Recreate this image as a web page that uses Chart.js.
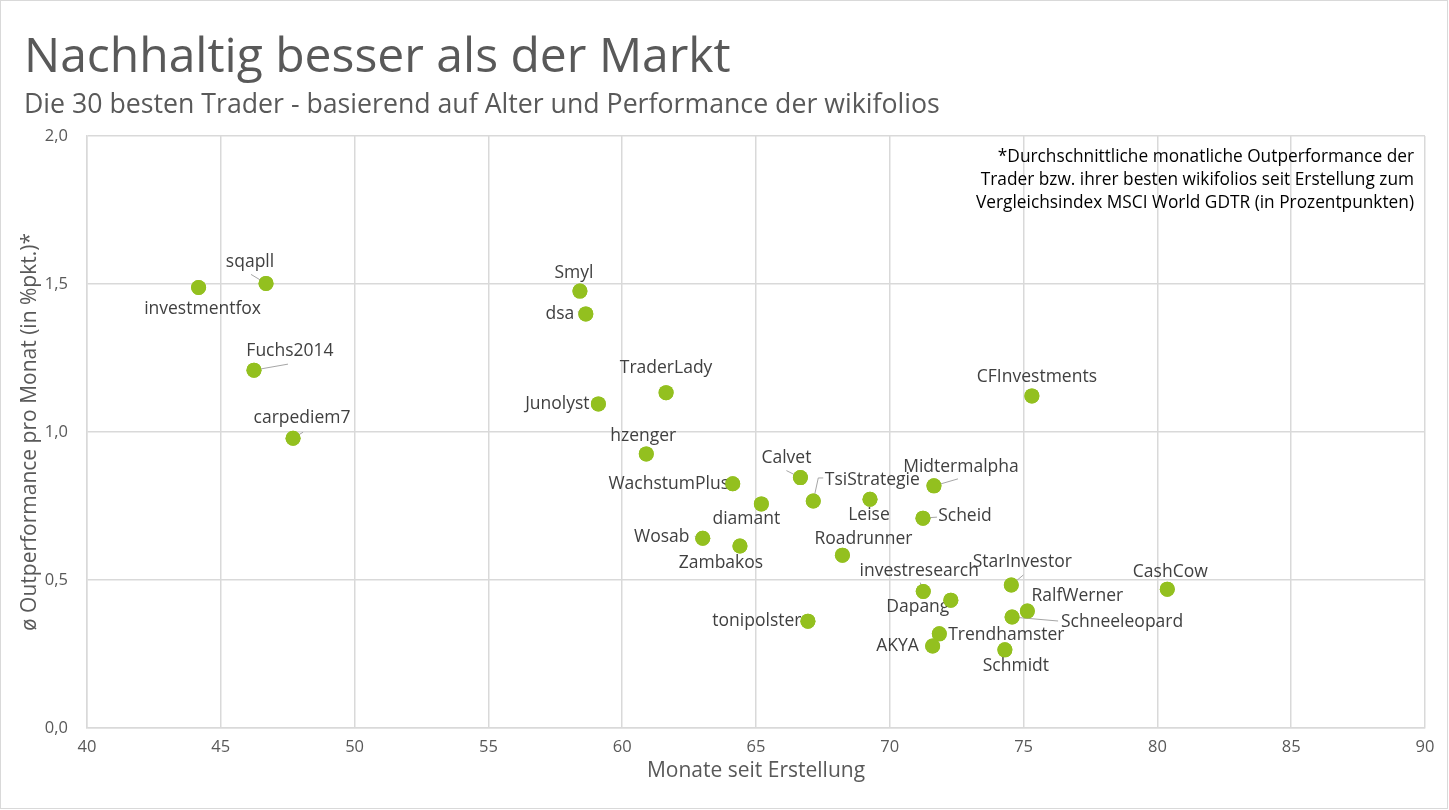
<!DOCTYPE html>
<html>
<head>
<meta charset="utf-8">
<script src="https://cdn.jsdelivr.net/npm/chart.js@4.4.1/dist/chart.umd.min.js"></script>
<style>
  html, body { margin: 0; padding: 0; background: #fff; }
  #wrap { position: relative; width: 1449px; height: 810px; }
</style>
</head>
<body>
<div id="wrap"><canvas id="chart"></canvas></div>
<script>
// trader names, age of wikifolio (months) and avg. monthly outperformance
const traders = [
  "investmentfox", "sqapll", "Fuchs2014", "carpediem7", "Smyl", "dsa",
  "TraderLady", "Junolyst", "hzenger", "CFInvestments", "WachstumPlus", "diamant",
  "Calvet", "TsiStrategie", "Leise", "Midtermalpha", "Scheid", "Wosab",
  "Zambakos", "Roadrunner", "investresearch", "Dapang", "StarInvestor", "RalfWerner",
  "Schneeleopard", "CashCow", "tonipolster", "Trendhamster", "AKYA", "Schmidt",
];
const months = [
  44.17, 46.69, 46.24, 47.70, 58.42, 58.64,
  61.64, 59.11, 60.90, 75.31, 64.13, 65.20,
  66.66, 67.14, 69.26, 71.65, 71.24, 63.01,
  64.40, 68.23, 71.25, 72.28, 74.54, 75.14,
  74.57, 80.37, 66.94, 71.85, 71.60, 74.30,
];
const outperf = [
  1.488, 1.502, 1.209, 0.979, 1.476, 1.399,
  1.133, 1.095, 0.926, 1.122, 0.825, 0.757,
  0.846, 0.767, 0.773, 0.818, 0.709, 0.641,
  0.615, 0.584, 0.461, 0.432, 0.483, 0.395,
  0.375, 0.469, 0.361, 0.318, 0.277, 0.264,
];
const xTicks = [40, 45, 50, 55, 60, 65, 70, 75, 80, 85, 90];
const yTicks = [0, 0.5, 1, 1.5, 2];

// label placement (px, relative to the dot) + optional leader line points
const labelPos = [
  [4, 21], [-16, -21], [36, -19], [9, -20], [-6, -18], [-26, 0],
  [0, -25], [-41, 0], [-3, -18], [5, -19], [-64, 0], [-15, 15],
  [-14, -20], [59, -21], [-1, 16], [27, -19], [42, -2], [-41, -1],
  [-19, 17], [21, -16], [-4, -21], [-33, 7], [11, -23], [50, -15],
  [110, 5], [3, -17], [-51, 0], [67, 1], [-35, 0], [11, 16],
];
const leaders = {
  sqapll: [[-15, -9]],
  Fuchs2014: [[34, -6]],
  carpediem7: [[10, -6]],
  dsa: [[-8, -2]],
  Calvet: [[-14, -7]],
  TsiStrategie: [[10, -23], [5, -23]],
  Midtermalpha: [[24, -7]],
  Scheid: [[14, -1]],
  Wosab: [[-8, -2]],
  investresearch: [[-3, -9]],
  StarInvestor: [[12, -10]],
  Schneeleopard: [[46, 4]],
  AKYA: [[-7, 0]],
};

const FONT = "'Open Sans', 'Noto Sans', sans-serif";
const GRID = "#d9d9d9";

const points = months.map((m, i) => ({ x: m, y: outperf[i] }));

const decorPlugin = {
  id: "decor",
  beforeDraw(chart) {
    const ctx = chart.ctx;
    ctx.save();
    ctx.fillStyle = "#fff";
    ctx.fillRect(0, 0, chart.width, chart.height);
    ctx.strokeStyle = GRID;
    ctx.lineWidth = 1;
    ctx.strokeRect(0.5, 0.5, 1447, 808);
    // headline + subline
    ctx.fillStyle = "#595959";
    ctx.textAlign = "left";
    ctx.textBaseline = "alphabetic";
    ctx.font = "48px " + FONT;
    ctx.fillText("Nachhaltig besser als der Markt", 24, 72);
    ctx.font = "26.7px " + FONT;
    ctx.fillText("Die 30 besten Trader - basierend auf Alter und Performance der wikifolios", 24, 113);
    ctx.restore();
  },
  afterDatasetsDraw(chart) {
    const ctx = chart.ctx;
    const xs = chart.scales.x, ys = chart.scales.y;
    ctx.save();
    // footnote box, top right
    ctx.fillStyle = "#000";
    ctx.font = "17.3px " + FONT;
    ctx.textAlign = "right";
    ctx.textBaseline = "middle";
    ctx.fillText("*Durchschnittliche monatliche Outperformance der", 1414, 157);
    ctx.fillText("Trader bzw. ihrer besten wikifolios seit Erstellung zum", 1414, 180);
    ctx.fillText("Vergleichsindex MSCI World GDTR (in Prozentpunkten)", 1414, 203);

    // data labels
    ctx.textAlign = "center";
    ctx.fillStyle = "#404040";
    ctx.font = "17.5px " + FONT;
    traders.forEach((name, i) => {
      const px = xs.getPixelForValue(months[i]);
      const py = ys.getPixelForValue(outperf[i]);
      const lead = leaders[name];
      if (lead) {
        ctx.strokeStyle = "#a6a6a6";
        ctx.lineWidth = 1;
        ctx.beginPath();
        ctx.moveTo(px + lead[0][0], py + lead[0][1]);
        lead.slice(1).forEach(p => ctx.lineTo(px + p[0], py + p[1]));
        ctx.lineTo(px, py);
        ctx.stroke();
      }
      ctx.fillText(name, px + labelPos[i][0], py + labelPos[i][1]);
    });
    ctx.restore();
  },
};

// redraw the dots on top so leader lines end under them
const dotsOnTop = {
  id: "dotsOnTop",
  afterDatasetsDraw(chart) {
    // runs after decor because registered later
    chart.getDatasetMeta(0).data.forEach(el => el.draw(chart.ctx));
  },
};

new Chart(document.getElementById("chart"), {
  type: "scatter",
  data: {
    datasets: [{
      data: points,
      backgroundColor: "#93c01f",
      borderWidth: 0,
      pointRadius: 7.5,
      pointHoverRadius: 7.5,
    }],
  },
  options: {
    responsive: true,
    maintainAspectRatio: false,
    animation: false,
    events: [],
    layout: { padding: { top: 136, left: 8, right: 24, bottom: 15 } },
    plugins: {
      legend: { display: false },
      tooltip: { enabled: false },
    },
    scales: {
      x: {
        type: "linear",
        min: 40,
        max: 90,
        afterBuildTicks: (s) => { s.ticks = xTicks.map(v => ({ value: v })); },
        afterFit: (s) => { s.height = 67; },
        grid: { color: GRID, lineWidth: 1.5, drawTicks: false },
        border: { color: GRID, width: 1.5 },
        ticks: { color: "#595959", font: { family: FONT, size: 16.5 }, padding: 9 },
        title: {
          display: true,
          text: "Monate seit Erstellung",
          color: "#595959",
          font: { family: FONT, size: 21 },
          padding: { top: 0, bottom: 11 },
        },
      },
      y: {
        type: "linear",
        min: 0,
        max: 2,
        afterBuildTicks: (s) => { s.ticks = yTicks.map(v => ({ value: v })); },
        afterFit: (s) => { s.width = 79; },
        grid: { color: GRID, lineWidth: 1.5, drawTicks: false },
        border: { color: GRID, width: 1.5 },
        ticks: {
          color: "#595959",
          font: { family: FONT, size: 16.5 },
          padding: 19,
          callback: (v) => v.toFixed(1).replace(".", ","),
        },
        title: {
          display: true,
          text: "ø Outperformance pro Monat (in %pkt.)*",
          color: "#595959",
          font: { family: FONT, size: 21 },
          padding: { top: 9, bottom: 0 },
        },
      },
    },
  },
  plugins: [decorPlugin, dotsOnTop],
});
</script>
</body>
</html>
